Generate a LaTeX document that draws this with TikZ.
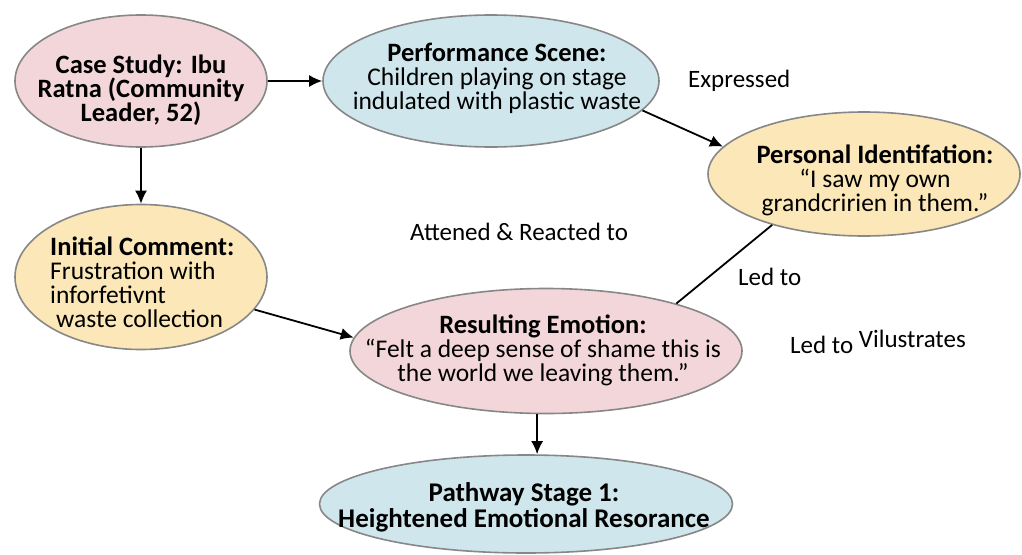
\documentclass[tikz,border=0pt]{standalone}
\usepackage{fontspec}
\setmainfont{Carlito}
\usetikzlibrary{shapes.geometric,arrows.meta}
\definecolor{pinkfill}{RGB}{243,214,218}
\definecolor{bluefill}{RGB}{207,230,236}
\definecolor{yellowfill}{RGB}{251,231,183}
\definecolor{rimgray}{RGB}{135,135,135}
\newcommand{\bubhead}[1]{{\fontsize{26.5}{25}\selectfont\bfseries #1}}
\lineskiplimit=-20pt
\begin{document}
\begin{tikzpicture}[
		x=1pt, y=-1pt,
		bubble/.style={ellipse, draw=rimgray, line width=1.6pt, inner sep=0pt},
		pinkbubble/.style={bubble, fill=pinkfill},
		bluebubble/.style={bubble, fill=bluefill},
		yellowbubble/.style={bubble, fill=yellowfill},
		bubtext/.style={align=center, inner sep=0pt, font=\fontsize{25.5}{24}\selectfont},
		boldtext/.style={bubtext, font=\fontsize{26.5}{24}\selectfont\bfseries},
		lbl/.style={anchor=base west, inner sep=0pt, font=\fontsize{25}{24}\selectfont},
		arr/.style={-{Latex[length=13pt,width=12pt]}, line width=1.8pt}
	]
	\fill[white] (0,0) rectangle (1022,554);
	\useasboundingbox (0,0) rectangle (1022,554);
	\node[pinkbubble, minimum width=252, minimum height=132] (casestudy) at (141,81) {};
	\node[boldtext] (casestudytext) at (141,90) {Case Study: Ibu\\Ratna (Community\\Leader, 52)};
	\node[bluebubble, minimum width=336, minimum height=132] (scene) at (491,81) {};
	\node[bubtext] (scenetext) at (497,78) {\bubhead{Performance Scene:}\\Children playing on stage\\indulated with plastic waste};
	\node[yellowbubble, minimum width=312, minimum height=124] (identif) at (864,174) {};
	\node[bubtext] (identiftext) at (875,180) {\bubhead{Personal Identifation:}\\“I saw my own\\grandcririen in them.”};
	\node[yellowbubble, minimum width=252, minimum height=145] (comment) at (141,277) {};
	\node[bubtext, align=left, anchor=west] (commenttext) at (50,282) {\bubhead{Initial Comment:}\\Frustration with\\inforfetivnt\\\hspace*{6pt}waste collection};
	\node[pinkbubble, minimum width=392, minimum height=125] (emotion) at (546,351) {};
	\node[bubtext] (emotiontext) at (543,350) {\bubhead{Resulting Emotion:}\\“Felt a deep sense of shame this is\\the world we leaving them.”};
	\node[bluebubble, minimum width=413, minimum height=98] (pathway) at (526,504) {};
	\node[boldtext, font=\fontsize{27}{26}\selectfont\bfseries] (pathwaytext) at (524,507) {Pathway Stage 1:\\Heightened Emotional Resorance};
	\node[lbl] (expressed) at (688,87) {Expressed};
	\node[lbl] (attened) at (410,240) {Attened \& Reacted to};
	\node[lbl] (ledtoa) at (738,285) {Led to};
	\node[lbl] (ledtob) at (790,353) {Led to \raisebox{6pt}{Vilustrates}};
	\draw[arr] (casestudy.east) -- (scene.west);
	\draw[arr] (casestudy.south) -- (comment.north);
	\draw[arr] (scene.-11) -- (identif.169);
	\draw[arr] (comment.-16) -- (emotion.176);
	\draw[line width=1.8pt] (identif.209) -- (emotion.20);
	\draw[arr] (emotion.262) -- (emotion.262 |- pathway.north);
\end{tikzpicture}
\end{document}
